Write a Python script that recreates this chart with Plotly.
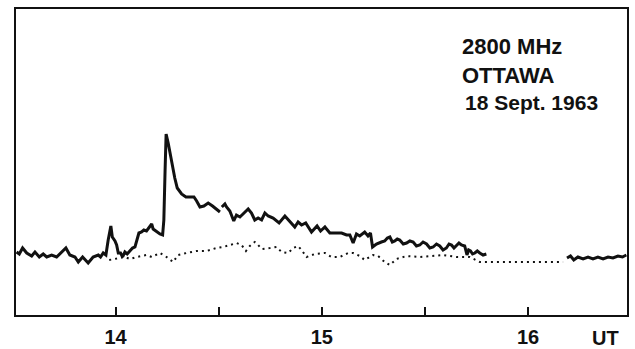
import plotly.graph_objects as go

# Time in UT hours, relative flux (arbitrary units)
burst_time_1 = [13.520, 13.533, 13.549, 13.569, 13.593, 13.609, 13.630, 13.649, 13.666, 13.690,
                13.714, 13.738, 13.759, 13.778, 13.803, 13.819, 13.840, 13.867, 13.891, 13.916,
                13.927, 13.940, 13.953, 13.964, 13.977, 13.984, 13.997, 14.005, 14.013, 14.024,
                14.034, 14.045, 14.056, 14.069, 14.082, 14.094, 14.105, 14.113, 14.126, 14.137,
                14.150, 14.166, 14.175, 14.182, 14.199, 14.215, 14.228, 14.234, 14.240, 14.245,
                14.255, 14.271, 14.287, 14.299, 14.320, 14.341, 14.360, 14.380, 14.393, 14.409,
                14.428, 14.449, 14.470, 14.490, 14.506]
burst_flux_1 = [63, 61, 67, 62, 59, 63, 58, 61, 58, 60,
                58, 63, 67, 60, 58, 53, 58, 52, 58, 60,
                58, 62, 60, 75, 89, 78, 74, 70, 62, 62,
                58, 63, 61, 64, 67, 68, 75, 82, 83, 85,
                84, 89, 91, 86, 83, 81, 80, 95, 145, 181,
                172, 153, 137, 127, 121, 118, 118, 118, 114, 108,
                109, 112, 109, 106, 103]

burst_time_2 = [14.515, 14.530, 14.538, 14.554, 14.573, 14.586, 14.603, 14.622, 14.643, 14.659,
                14.675, 14.691, 14.708, 14.724, 14.740, 14.764, 14.793, 14.821, 14.845, 14.869,
                14.885, 14.902, 14.922, 14.950, 14.977, 14.994, 15.015, 15.039, 15.071, 15.096,
                15.120, 15.136, 15.152, 15.168, 15.184, 15.208, 15.224, 15.236, 15.246, 15.265,
                15.289, 15.305, 15.318, 15.330, 15.342, 15.354, 15.366, 15.378, 15.395, 15.411,
                15.427, 15.443, 15.459, 15.475, 15.491, 15.508, 15.524, 15.540, 15.556, 15.572,
                15.588, 15.604, 15.617, 15.629, 15.641, 15.653, 15.665, 15.677, 15.693, 15.704,
                15.712, 15.721, 15.731, 15.742, 15.754, 15.766, 15.782, 15.798]
burst_flux_2 = [108, 111, 108, 104, 94, 100, 98, 102, 106, 102,
                95, 97, 95, 102, 99, 97, 92, 99, 93, 88,
                93, 90, 92, 83, 89, 84, 88, 82, 82, 82,
                80, 80, 72, 81, 79, 83, 79, 82, 68, 71,
                73, 74, 77, 78, 73, 74, 76, 75, 71, 72,
                74, 73, 69, 70, 73, 71, 67, 68, 71, 69,
                65, 67, 71, 70, 67, 70, 72, 70, 69, 60,
                65, 64, 61, 62, 64, 62, 60, 61]

quiet_time = [16.189, 16.206, 16.222, 16.242, 16.267, 16.291, 16.315, 16.339, 16.364, 16.388,
              16.412, 16.436, 16.458, 16.477]
quiet_flux = [57, 59, 55, 58, 56, 58, 56, 58, 56, 58, 57, 59, 58, 60]

bg_time = [13.969, 13.997, 14.045, 14.069, 14.102, 14.150, 14.175, 14.215, 14.247, 14.279,
           14.303, 14.344, 14.393, 14.441, 14.490, 14.522, 14.554, 14.587, 14.611, 14.632,
           14.651, 14.675, 14.691, 14.708, 14.748, 14.780, 14.805, 14.837, 14.861, 14.885,
           14.902, 14.926, 14.966, 15.015, 15.047, 15.087, 15.128, 15.152, 15.184, 15.208,
           15.249, 15.273, 15.305, 15.330, 15.362, 15.411, 15.475, 15.540, 15.588, 15.653,
           15.717, 15.766, 15.847, 15.960, 16.057, 16.170]
bg_flux = [55, 56, 58, 56, 58, 60, 58, 62, 58, 53,
           60, 62, 64, 64, 67, 68, 70, 72, 70, 64,
           69, 73, 70, 66, 67, 68, 63, 62, 67, 69,
           65, 58, 61, 62, 58, 58, 62, 62, 59, 55,
           60, 59, 53, 50, 56, 59, 58, 59, 60, 58,
           58, 53, 53, 53, 53, 53]

tick_vals = [14, 14.5, 15, 15.5, 16]
tick_text = ["14", "", "15", "", "16"]
label_lines = ["2800 MHz", "OTTAWA", "18 Sept. 1963"]

INK = "#111111"
FONT = "Liberation Sans"

fig = go.Figure()
solid = dict(color=INK, width=3)
fig.add_trace(go.Scatter(x=burst_time_1, y=burst_flux_1, mode="lines", line=solid,
                         showlegend=False, hoverinfo="skip"))
fig.add_trace(go.Scatter(x=burst_time_2, y=burst_flux_2, mode="lines", line=solid,
                         showlegend=False, hoverinfo="skip"))
fig.add_trace(go.Scatter(x=quiet_time, y=quiet_flux, mode="lines", line=solid,
                         showlegend=False, hoverinfo="skip"))
fig.add_trace(go.Scatter(x=bg_time, y=bg_flux, mode="lines",
                         line=dict(color=INK, width=2, dash="2px,4px"),
                         showlegend=False, hoverinfo="skip"))

label_y = [0.879, 0.784, 0.693]
label_x = [0.727, 0.727, 0.731]
label_size = [22, 22, 21]
for txt, xx, yy, sz in zip(label_lines, label_x, label_y, label_size):
    fig.add_annotation(x=xx, y=yy, xref="paper", yref="paper", text="<b>" + txt + "</b>",
                       showarrow=False, xanchor="left", yanchor="middle",
                       font=dict(family=FONT, size=sz, color=INK))

fig.add_annotation(x=0.965, y=-0.075, xref="paper", yref="paper", text="<b>UT</b>",
                   showarrow=False, xanchor="center", yanchor="middle",
                   font=dict(family=FONT, size=20, color=INK))

fig.update_xaxes(range=[13.517, 16.48], showgrid=False, zeroline=False, automargin=False,
                 showline=True, linecolor=INK, linewidth=2, mirror=True,
                 ticks="inside", ticklen=8, tickwidth=1.5, tickcolor=INK,
                 tickvals=tick_vals, ticktext=tick_text, ticklabelstandoff=3,
                 tickfont=dict(family=FONT, size=20, color=INK, weight="bold"))
fig.update_yaxes(range=[0, 306], showgrid=False, zeroline=False, automargin=False,
                 showline=True, linecolor=INK, linewidth=2, mirror=True,
                 showticklabels=False, ticks="")

fig.update_layout(width=635, height=349, margin=dict(l=16, r=8, t=9, b=34),
                  paper_bgcolor="white", plot_bgcolor="white")

fig.write_html("out.html")
